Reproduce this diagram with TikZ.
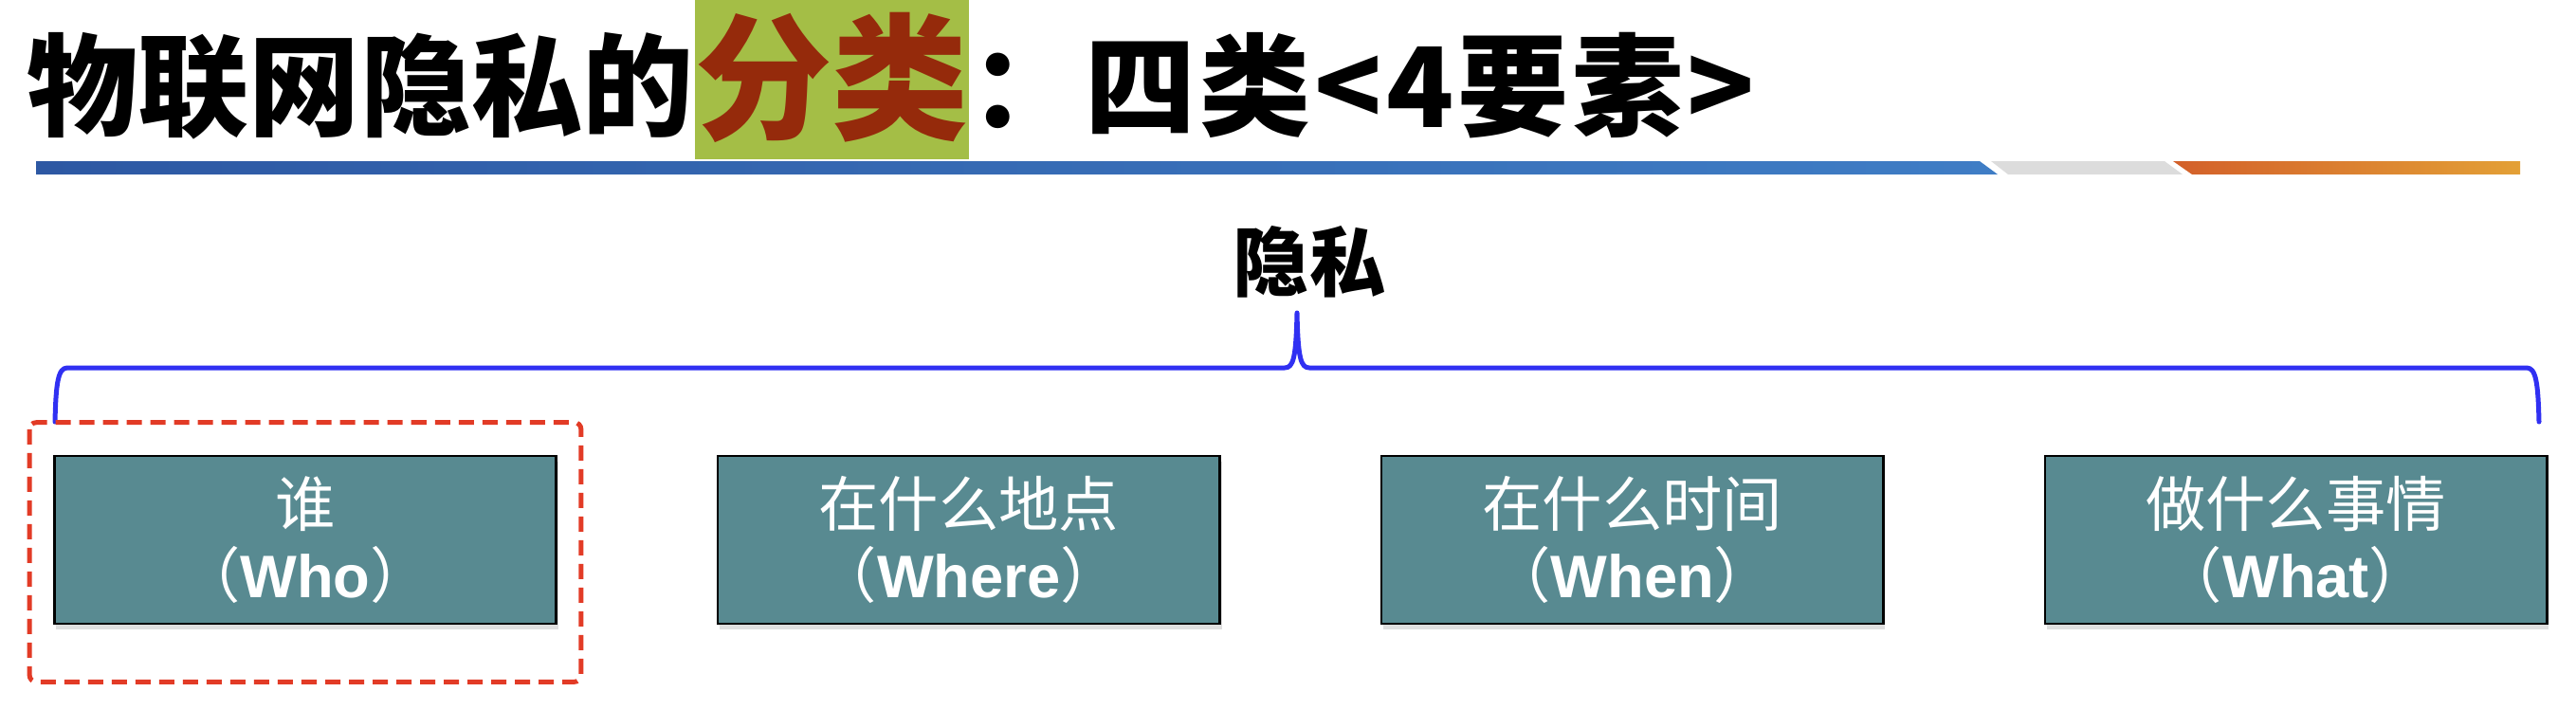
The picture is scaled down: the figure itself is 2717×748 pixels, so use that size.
\documentclass[tikz,border=0pt]{standalone}
\usepackage{fontspec}
\newfontfamily\cjk{Noto Sans CJK SC}
\newfontfamily\lat{Liberation Sans}
\usetikzlibrary{positioning, shadows}

\definecolor{boxteal}{HTML}{588A91}
\definecolor{hlgreen}{HTML}{A4BE46}
\definecolor{hlred}{HTML}{952A0B}
\definecolor{bracblue}{HTML}{3030F2}
\definecolor{focusred}{HTML}{E23B26}
\definecolor{barbluel}{HTML}{2D58A3}
\definecolor{barbluer}{HTML}{3F7DC5}
\definecolor{bargrey}{HTML}{DCDCDC}
\definecolor{barorl}{HTML}{D3602A}
\definecolor{barorr}{HTML}{E3A036}

\tikzset{
  ttl/.style={inner sep=0pt, font=\cjk\bfseries\fontsize{33.3}{40}\selectfont},
  hlbox/.style={inner sep=0pt, font=\cjk\bfseries\fontsize{41}{48}\selectfont,
    fill=hlgreen, text=hlred, minimum width=2.83cm,
    text height=1.36cm, text depth=0.32cm},
  catbox/.style={draw=black, line width=0.7pt, fill=boxteal, text=white,
    minimum width=5.29cm, minimum height=1.77cm, inner sep=0pt, align=center,
    font=\cjk\fontsize{18}{21.3}\selectfont,
    drop shadow={opacity=0.25, shadow xshift=0.02cm, shadow yshift=-0.06cm}},
  brace/.style={bracblue, line width=1.42pt, line cap=round, line join=round},
  focus/.style={focusred, line width=1.42pt, dash pattern=on 0.16cm off 0.09cm,
    rounded corners=2pt}
}

\begin{document}
\begin{tikzpicture}[x=0.01cm,y=-0.01cm]
\useasboundingbox (0,0) rectangle (2717,748);
% title
\node[ttl, anchor=base west] (ttla) at (28,134) {物联网隐私的};
\node[hlbox, anchor=base] (ttlb) at (877.5,136) {分类};
\node[ttl, anchor=base west] (ttlc) at (ttlb.east |- ttla.base)
  {\addfontfeature{LetterSpace=3.5}：四类<4要素>};
% bar
\shade[left color=barbluel, right color=barbluer]
  (38,170) -- (2088,170) -- (2107,184) -- (38,184) -- cycle;
\fill[bargrey] (2100,170) -- (2283,170) -- (2302,184) -- (2118,184) -- cycle;
\shade[left color=barorl, right color=barorr]
  (2292,170) -- (2658,170) -- (2658,184) -- (2312,184) -- cycle;
% categories
\node[catbox] (who) at (322,569.5) {谁\\（{\lat\bfseries Who}）};
\node[catbox, right=1.68cm of who] (where) {在什么地点\\（{\lat\bfseries Where}）};
\node[catbox, right=1.68cm of where] (when) {在什么时间\\（{\lat\bfseries When}）};
\node[catbox, right=1.68cm of when] (what) {做什么事情\\（{\lat\bfseries What}）};
% brace
\node[font=\cjk\bfseries\fontsize{22.8}{27}\selectfont, inner sep=0pt] (priv) at (1381,276) {隐私};
\draw[brace] (58,445) .. controls (59,405) and (61,388) .. (71,388) -- (1355,388)
  .. controls (1364,388) and (1367,378) .. (1368,330)
  .. controls (1369,378) and (1372,388) .. (1381,388) -- (2665,388)
  .. controls (2675,388) and (2677,405) .. (2678,445);
\draw[focus] ([shift={(-25,-34)}]who.north west) rectangle ([shift={(25,60)}]who.south east);
\end{tikzpicture}
\end{document}
